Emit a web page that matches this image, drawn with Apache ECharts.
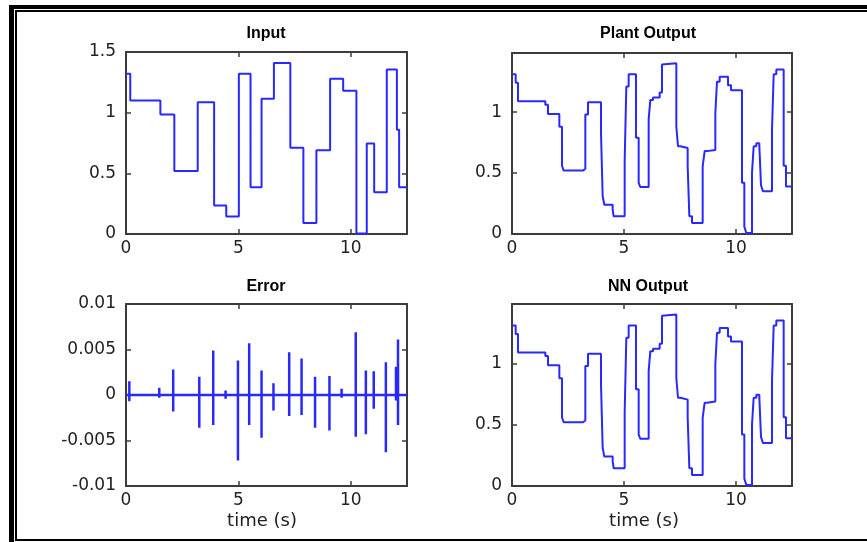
<!DOCTYPE html>
<html>
<head>
<meta charset="utf-8">
<script src="https://cdn.jsdelivr.net/npm/echarts@6/dist/echarts.min.js"></script>
<style>
html,body{margin:0;padding:0;background:#fff;}
#chart{width:867px;height:542px;}
</style>
</head>
<body>
<div id="chart"></div>
<script>
// ---- data ----
const titles = ['Input', 'Plant Output', 'Error', 'NN Output'];
const xLabel = 'time (s)';
const timeRange = [0, 12.5];
const xTickStep = 5;
const signalRange = [0, 1.5];
const outputRange = [0, 1.485];
const errorRange = [-0.01, 0.01];

// Input: step levels (value holds from time until next time)
const inputT = [0, 0.19, 1.53, 2.15, 3.19, 3.92, 4.46, 5.02, 5.54, 6.03, 6.58, 7.31, 7.89, 8.47, 9.08, 9.66, 10.25, 10.71, 11.04, 11.6, 12.05, 12.15, 12.5];
const inputV = [1.32, 1.10, 0.985, 0.52, 1.085, 0.235, 0.145, 1.32, 0.385, 1.115, 1.41, 0.71, 0.09, 0.69, 1.28, 1.18, 0.005, 0.745, 0.345, 1.355, 0.86, 0.385, 0.385];

// Plant output: sampled staircase
const plantT = [0, 0.164, 0.268, 1.488, 1.607, 2.113, 2.232, 2.307, 3.17, 3.274, 3.393, 3.973, 4.048, 4.122, 4.494, 4.539, 5.03, 5.104, 5.208, 5.536, 5.655, 5.729, 6.101, 6.176, 6.295, 6.592, 6.696, 6.771, 7.336, 7.411, 7.515, 7.842, 7.917, 8.036, 8.512, 8.601, 8.705, 9.077, 9.152, 9.271, 9.643, 9.777, 10.268, 10.372, 10.461, 10.714, 10.789, 10.908, 11.042, 11.116, 11.205, 11.607, 11.682, 11.801, 12.128, 12.232, 12.5];
const plantV = [1.31, 1.24, 1.09, 1.06, 0.985, 0.88, 0.56, 0.52, 0.535, 0.98, 1.08, 0.83, 0.31, 0.24, 0.20, 0.145, 0.60, 1.21, 1.31, 0.79, 0.42, 0.385, 0.94, 1.10, 1.12, 1.16, 1.39, 1.40, 0.88, 0.72, 0.705, 0.56, 0.145, 0.09, 0.555, 0.68, 0.69, 0.99, 1.25, 1.29, 1.22, 1.18, 0.42, 0.06, 0.008, 0.50, 0.72, 0.745, 0.72, 0.40, 0.35, 0.855, 1.31, 1.35, 0.56, 0.39, 0.39];

// NN output: visually identical to plant output
const nnT = [0, 0.164, 0.268, 1.488, 1.607, 2.113, 2.232, 2.307, 3.17, 3.274, 3.393, 3.973, 4.048, 4.122, 4.494, 4.539, 5.03, 5.104, 5.208, 5.536, 5.655, 5.729, 6.101, 6.176, 6.295, 6.592, 6.696, 6.771, 7.336, 7.411, 7.515, 7.842, 7.917, 8.036, 8.512, 8.601, 8.705, 9.077, 9.152, 9.271, 9.643, 9.777, 10.268, 10.372, 10.461, 10.714, 10.789, 10.908, 11.042, 11.116, 11.205, 11.607, 11.682, 11.801, 12.128, 12.232, 12.5];
const nnV = [1.31, 1.24, 1.09, 1.06, 0.985, 0.88, 0.56, 0.52, 0.535, 0.98, 1.08, 0.83, 0.31, 0.24, 0.20, 0.145, 0.60, 1.21, 1.31, 0.79, 0.42, 0.385, 0.94, 1.10, 1.12, 1.16, 1.39, 1.40, 0.88, 0.72, 0.705, 0.56, 0.145, 0.09, 0.555, 0.68, 0.69, 0.99, 1.25, 1.29, 1.22, 1.18, 0.42, 0.06, 0.008, 0.50, 0.72, 0.745, 0.72, 0.40, 0.35, 0.855, 1.31, 1.35, 0.56, 0.39, 0.39];

// Error: spikes (time, max, min)
const errT  = [0.148, 1.48, 2.10, 3.26, 3.88, 4.43, 4.98, 5.48, 6.03, 6.56, 7.26, 7.81, 8.41, 9.05, 9.59, 10.22, 10.67, 11.02, 11.56, 12.01, 12.10];
const errHi = [0.0015, 0.0008, 0.0028, 0.0020, 0.0049, 0.0005, 0.0038, 0.0057, 0.0027, 0.0013, 0.0047, 0.0040, 0.0020, 0.0021, 0.0007, 0.0069, 0.0027, 0.0026, 0.0036, 0.0031, 0.0061];
const errLo = [-0.0007, -0.0003, -0.0018, -0.0036, -0.0033, -0.0004, -0.0072, -0.0033, -0.0047, -0.0017, -0.0023, -0.0022, -0.0036, -0.0039, -0.0003, -0.0046, -0.0043, -0.0015, -0.0063, -0.0006, -0.0033];

// ---- build ----
const zip = (a, b) => a.map((t, i) => [t, b[i]]);
const errData = [[timeRange[0], 0]];
errT.forEach((t, i) => { errData.push([t, 0], [t, errHi[i]], [t, errLo[i]], [t, 0]); });
errData.push([timeRange[1], 0]);

const AX = '#3c3c3c';
const LINE = '#2828ff';
const tickFont = 'DejaVu Sans';
const grids = [
  {left: 126, top: 52, width: 281, height: 182},
  {left: 512, top: 53, width: 280, height: 181},
  {left: 126, top: 304, width: 281, height: 182},
  {left: 512, top: 304, width: 280, height: 182}
];
const yRanges = [signalRange, outputRange, errorRange, outputRange];
const yStep = [0.5, 0.5, 0.005, 0.5];

const xAxis = [], yAxis = [];
grids.forEach((g, i) => {
  const base = {
    gridIndex: i, type: 'value',
    axisLine: {show: true, onZero: false, lineStyle: {color: AX, width: 2}},
    axisTick: {show: true, inside: true, length: 5, lineStyle: {color: AX, width: 1.5}},
    splitLine: {show: false}
  };
  xAxis.push(Object.assign({}, base, {
    position: 'bottom', min: timeRange[0], max: timeRange[1], interval: xTickStep,
    axisLabel: {fontFamily: tickFont, fontSize: 17, color: '#222', margin: 6, showMaxLabel: false}
  }));
  xAxis.push(Object.assign({}, base, {
    position: 'top', min: timeRange[0], max: timeRange[1], interval: xTickStep,
    axisLabel: {show: false}
  }));
  yAxis.push(Object.assign({}, base, {
    position: 'left', min: yRanges[i][0], max: yRanges[i][1], interval: yStep[i],
    axisLabel: {fontFamily: tickFont, fontSize: 17, color: '#222', margin: 10,
      showMaxLabel: i === 0 || i === 2}
  }));
  yAxis.push(Object.assign({}, base, {
    position: 'right', min: yRanges[i][0], max: yRanges[i][1], interval: yStep[i],
    axisLabel: {show: false}
  }));
});

const mk = (i, data, step, w) => ({
  type: 'line', xAxisIndex: i * 2, yAxisIndex: i * 2, data: data,
  step: step ? 'end' : false, showSymbol: false, symbol: 'none',
  lineStyle: {color: LINE, width: w}, animation: false, z: 1
});

const titleCfg = (text, x, y) => ({
  text: text, left: x, top: y, textAlign: 'center', padding: 0,
  textStyle: {fontFamily: 'Liberation Sans', fontWeight: 'bold', fontSize: 16, color: '#000'}
});

const option = {
  animation: false,
  backgroundColor: '#fff',
  title: [
    titleCfg(titles[0], 266, 26),
    titleCfg(titles[1], 648, 26),
    titleCfg(titles[2], 266, 279),
    titleCfg(titles[3], 648, 279)
  ],
  grid: grids,
  xAxis: xAxis,
  yAxis: yAxis,
  series: [
    mk(0, zip(inputT, inputV), true, 2),
    mk(1, zip(plantT, plantV), true, 2),
    mk(2, errData, false, 2.5),
    mk(3, zip(nnT, nnV), true, 2)
  ],
  graphic: [
    {type: 'rect', shape: {x: 9, y: 5, width: 858, height: 4}, style: {fill: '#000'}},
    {type: 'rect', shape: {x: 9, y: 5, width: 5, height: 537}, style: {fill: '#000'}},
    {type: 'rect', shape: {x: 15, y: 10, width: 852, height: 2}, style: {fill: '#000'}},
    {type: 'rect', shape: {x: 15, y: 10, width: 2, height: 531}, style: {fill: '#000'}},
    {type: 'rect', shape: {x: 15, y: 539, width: 852, height: 2}, style: {fill: '#000'}},
    {type: 'text', x: 262, y: 521, style: {text: xLabel, fontFamily: tickFont, fontSize: 18, fill: '#222', align: 'center', verticalAlign: 'middle'}},
    {type: 'text', x: 644, y: 521, style: {text: xLabel, fontFamily: tickFont, fontSize: 18, fill: '#222', align: 'center', verticalAlign: 'middle'}}
  ]
};

const chart = echarts.init(document.getElementById('chart'), null, {renderer: 'canvas'});
chart.setOption(option);
</script>
</body>
</html>
